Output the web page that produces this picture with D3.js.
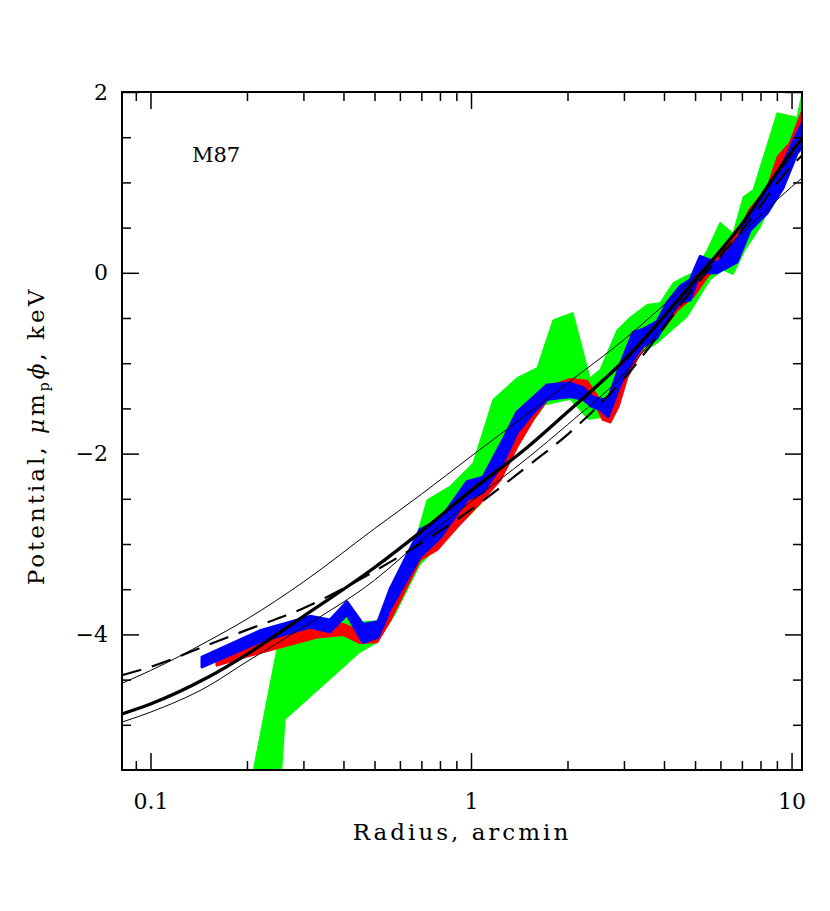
<html><head>
<script src="https://d3js.org/d3.v7.min.js"></script>
<style>
  body { margin: 0; background: #fff; }
  text { font-family: "DejaVu Serif", "Liberation Serif", serif; fill: #000; }
  .tick line { stroke: #000; stroke-width: 1.5px; }
  .domain { display: none; }
</style>
</head>
<body>
<script>
// model curves, sampled at modelR (arcmin)
var modelR     = [0.0815, 0.1, 0.15, 0.2, 0.3, 0.5, 0.7, 1, 1.5, 2, 3, 5, 7, 10, 10.8];
var thickLine  = [-4.88, -4.77, -4.48, -4.22, -3.80, -3.26, -2.86, -2.41, -1.93, -1.54, -0.97, -0.08, 0.54, 1.34, 1.49];
var dashedLine = [-4.45, -4.36, -4.12, -3.95, -3.71, -3.30, -2.99, -2.62, -2.14, -1.79, -1.17, -0.15, 0.47, 1.18, 1.30];
var thinUpper  = [-4.54, -4.40, -4.08, -3.83, -3.42, -2.83, -2.45, -2.03, -1.56, -1.22, -0.74, -0.04, 0.44, 0.95, 1.05];
var thinLower  = [-4.97, -4.86, -4.58, -4.30, -3.92, -3.40, -2.96, -2.53, -2.05, -1.68, -1.12, -0.12, 0.52, 1.28, 1.40];

// green band: upper and lower edges [r, phi]
var greenUpper = [[0.2015,-5.80],[0.248,-4.16],[0.321,-3.91],[0.405,-3.81],[0.460,-3.86],[0.509,-3.85],
  [0.571,-3.53],[0.645,-3.17],[0.729,-2.51],[0.860,-2.36],[1.015,-2.10],[1.171,-1.40],[1.391,-1.16],
  [1.607,-1.05],[1.803,-0.52],[2.081,-0.44],[2.351,-1.16],[2.526,-1.07],[2.855,-0.63],[3.134,-0.49],
  [3.541,-0.35],[3.888,-0.33],[4.268,-0.11],[4.587,-0.05],[4.929,0.00],[5.450,0.25],[5.983,0.56],
  [6.570,0.44],[7.060,0.84],[7.585,0.92],[9.011,1.77],[10.40,1.72],[10.78,1.99]];
var greenLower = [[0.246,-6.5],[0.263,-4.94],[0.450,-4.20],[0.509,-4.09],[0.579,-3.78],[0.693,-3.23],
  [0.800,-3.01],[0.924,-2.79],[1.067,-2.57],[1.232,-2.18],[1.391,-1.85],[1.495,-1.74],[1.702,-1.46],
  [2.037,-1.40],[2.318,-1.62],[2.581,-1.60],[2.855,-1.29],[3.134,-0.96],[3.805,-0.78],[4.720,-0.49],
  [5.569,-0.08],[6.114,0.03],[6.570,-0.02],[7.161,0.25],[7.976,0.50],[9.207,0.97],[10.25,1.30],[10.78,1.41]];

// red band [r, hi, lo]
var redBand = [[0.1612,-4.24,-4.34],[0.200,-4.11,-4.24],[0.2535,-4.03,-4.14],[0.3308,-3.91,-4.03],
  [0.3988,-3.89,-4.00],[0.4504,-3.97,-4.09],[0.5088,-3.94,-4.08],[0.5589,-3.65,-3.84],[0.6933,-2.95,-3.17],
  [0.7833,-2.81,-3.06],[0.9044,-2.54,-2.81],[1.067,-2.32,-2.54],[1.232,-1.99,-2.29],[1.391,-1.62,-1.92],
  [1.561,-1.40,-1.62],[1.726,-1.27,-1.40],[2.037,-1.18,-1.32],[2.301,-1.20,-1.32],[2.473,-1.37,-1.48],
  [2.581,-1.48,-1.62],[2.715,-1.51,-1.65],[2.876,-1.21,-1.48],[3.067,-0.96,-1.15],[3.441,-0.66,-0.82],
  [3.888,-0.52,-0.66],[4.393,-0.26,-0.41],[4.929,-0.11,-0.26],[5.450,0.07,-0.04],[6.114,0.25,0.14],
  [6.908,0.47,0.33],[7.423,0.70,0.58],[8.386,0.92,0.77],[9.076,1.28,1.06],[9.893,1.43,1.25],
  [10.63,1.72,1.50],[10.78,1.77,1.55]];

// blue band [r, hi, lo]
var blueBand = [[0.1448,-4.25,-4.36],[0.2196,-3.96,-4.08],[0.3146,-3.80,-3.92],[0.3632,-3.84,-3.97],
  [0.4103,-3.64,-3.78],[0.4603,-3.89,-4.09],[0.5125,-3.86,-4.03],[0.5589,-3.50,-3.72],[0.6933,-2.84,-3.14],
  [0.8003,-2.73,-2.93],[0.9717,-2.31,-2.51],[1.090,-2.26,-2.43],[1.258,-1.85,-2.10],[1.391,-1.54,-1.77],
  [1.561,-1.38,-1.55],[1.726,-1.24,-1.40],[2.037,-1.22,-1.37],[2.236,-1.27,-1.40],[2.385,-1.37,-1.48],
  [2.526,-1.40,-1.51],[2.677,-1.40,-1.59],[2.917,-1.02,-1.24],[3.203,-0.66,-0.96],[3.416,-0.63,-0.82],
  [3.805,-0.54,-0.72],[4.088,-0.33,-0.52],[4.489,-0.15,-0.33],[4.824,-0.08,-0.30],[5.183,0.18,0.00],
  [5.855,0.11,0.00],[6.292,0.22,0.06],[6.761,0.36,0.12],[7.423,0.66,0.47],[8.386,0.88,0.66],
  [9.407,1.21,0.94],[10.40,1.54,1.32],[10.78,1.65,1.39]];

var xMajor = [0.1, 1, 10];
var xMinor = [0.09, 0.2, 0.3, 0.4, 0.5, 0.6, 0.7, 0.8, 0.9, 2, 3, 4, 5, 6, 7, 8, 9];
var yMajor = [-4, -2, 0, 2];
var yMinor = [-5, -4.5, -3.5, -3, -2.5, -1.5, -1, -0.5, 0.5, 1, 1.5];

var plotL = 122, plotR = 802, plotT = 92, plotB = 770;

var svg = d3.select("body").append("svg")
    .attr("width", 830).attr("height", 911);

var x = d3.scaleLog().domain([0.0815, 10.78]).range([plotL, plotR]);
var y = d3.scaleLinear().domain([-5.5, 2]).range([plotB, plotT]);

svg.append("clipPath").attr("id", "clip")
  .append("rect").attr("x", plotL).attr("y", plotT)
  .attr("width", plotR - plotL).attr("height", plotB - plotT);

var plot = svg.append("g").attr("clip-path", "url(#clip)");

// green band as a closed polygon
var poly = greenUpper.concat(greenLower.slice().reverse());
plot.append("path")
  .attr("d", d3.line().x(function(d) { return x(d[0]); }).y(function(d) { return y(d[1]); })(poly) + "Z")
  .attr("fill", "#00ff00").attr("stroke", "#00ff00").attr("stroke-width", 1);

var band = d3.area()
  .x(function(d) { return x(d[0]); })
  .y0(function(d) { return y(d[2]); })
  .y1(function(d) { return y(d[1]); });

plot.append("path").attr("d", band(redBand))
  .attr("fill", "#ff0000").attr("stroke", "#ff0000").attr("stroke-width", 3).attr("stroke-linejoin", "round");
plot.append("path").attr("d", band(blueBand))
  .attr("fill", "#0000ff").attr("stroke", "#0000ff").attr("stroke-width", 3).attr("stroke-linejoin", "round");

// model lines
function modelLine(vals) {
  return d3.line()
    .x(function(d, i) { return x(modelR[i]); })
    .y(function(d) { return y(d); })
    .curve(d3.curveMonotoneX)(vals);
}
plot.append("path").attr("d", modelLine(thinUpper))
  .attr("fill", "none").attr("stroke", "#000").attr("stroke-width", 1);
plot.append("path").attr("d", modelLine(thinLower))
  .attr("fill", "none").attr("stroke", "#000").attr("stroke-width", 1);
plot.append("path").attr("d", modelLine(dashedLine))
  .attr("fill", "none").attr("stroke", "#000").attr("stroke-width", 2.2)
  .attr("stroke-dasharray", "20,11");
plot.append("path").attr("d", modelLine(thickLine))
  .attr("fill", "none").attr("stroke", "#000").attr("stroke-width", 3.3);

// axes: ticks pointing inward on all four sides
function ticks(axis, tr) {
  var g = svg.append("g").attr("transform", tr).call(axis);
  g.selectAll("text").style("font-size", "22px").style("font-family", "DejaVu Serif");
  return g;
}
ticks(d3.axisBottom(x).tickValues(xMajor).tickSize(-17).tickPadding(23)
  .tickFormat(function(d) { return d < 1 ? "0.1" : String(d); }), "translate(0," + plotB + ")");
ticks(d3.axisBottom(x).tickValues(xMinor).tickSize(-9).tickFormat(""), "translate(0," + plotB + ")");
ticks(d3.axisTop(x).tickValues(xMajor).tickSize(-17).tickFormat(""), "translate(0," + plotT + ")");
ticks(d3.axisTop(x).tickValues(xMinor).tickSize(-9).tickFormat(""), "translate(0," + plotT + ")");
ticks(d3.axisLeft(y).tickValues(yMajor).tickSize(-17).tickPadding(14)
  .tickFormat(function(d) { return d < 0 ? "\u2212" + (-d) : String(d); }), "translate(" + plotL + ",0)");
ticks(d3.axisLeft(y).tickValues(yMinor).tickSize(-9).tickFormat(""), "translate(" + plotL + ",0)");
ticks(d3.axisRight(y).tickValues(yMajor).tickSize(-17).tickFormat(""), "translate(" + plotR + ",0)");
ticks(d3.axisRight(y).tickValues(yMinor).tickSize(-9).tickFormat(""), "translate(" + plotR + ",0)");

svg.append("rect").attr("x", plotL).attr("y", plotT)
  .attr("width", plotR - plotL).attr("height", plotB - plotT)
  .attr("fill", "none").attr("stroke", "#000").attr("stroke-width", 2);

// labels
svg.append("text").attr("x", 192).attr("y", 162).style("font-size", "21px").text("M87");

svg.append("text").attr("x", 462).attr("y", 840).attr("text-anchor", "middle")
  .style("font-size", "23px").style("letter-spacing", "3px").text("Radius, arcmin");

var yl = svg.append("text").attr("transform", "translate(44,436) rotate(-90)")
  .attr("text-anchor", "middle").style("font-size", "23px").style("letter-spacing", "3px");
yl.append("tspan").text("Potential, ");
yl.append("tspan").style("font-style", "italic").text("\u03bc");
yl.append("tspan").text("m");
yl.append("tspan").attr("dy", 5).style("font-size", "14px").text("p");
yl.append("tspan").attr("dy", -5).style("font-style", "italic").text("\u03d5");
yl.append("tspan").text(", keV");
</script>
</body></html>
